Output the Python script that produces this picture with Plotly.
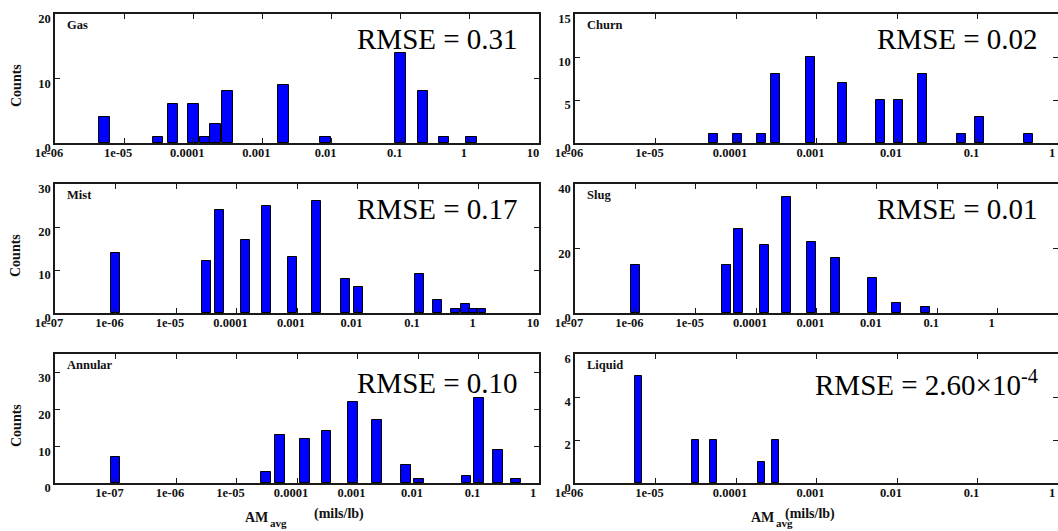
import numpy as np
import plotly.graph_objects as go

# ---- histogram data: bin centre of AM_avg (mils/lb) and counts per regime ----
gas_am = [5.2e-6, 3.1e-5, 5.1e-5, 1.0e-4, 1.5e-4, 2.1e-4, 3.1e-4, 2.0e-3, 8.2e-3, 0.10, 0.21, 0.42, 1.05]
gas_counts = [4, 1, 6, 6, 1, 3, 8, 9, 1, 14, 8, 1, 1]

churn_am = [5.2e-5, 1.03e-4, 2.1e-4, 3.1e-4, 8.4e-4, 2.1e-3, 6.2e-3, 1.04e-2, 2.1e-2, 6.3e-2, 0.106, 0.43]
churn_counts = [1, 1, 1, 8, 10, 7, 5, 5, 8, 1, 3, 1]

mist_am = [1.0e-6, 3.2e-5, 5.2e-5, 1.4e-4, 3.1e-4, 8.3e-4, 2.1e-3, 6.3e-3, 1.05e-2, 0.104, 0.21, 0.42, 0.60, 0.82, 1.1]
mist_counts = [14, 12, 24, 17, 25, 13, 26, 8, 6, 9, 3, 1, 2, 1, 1]

slug_am = [1.0e-6, 3.2e-5, 5.2e-5, 1.4e-4, 3.2e-4, 8.4e-4, 2.1e-3, 8.5e-3, 2.1e-2, 6.3e-2]
slug_counts = [15, 15, 26, 21, 36, 22, 17, 11, 3, 2]

annular_am = [1.0e-7, 3.1e-5, 5.2e-5, 1.35e-4, 3.1e-4, 8.4e-4, 2.1e-3, 6.3e-3, 1.04e-2, 6.3e-2, 0.102, 0.21, 0.42]
annular_counts = [7, 3, 13, 12, 14, 22, 17, 5, 1, 2, 23, 9, 1]

liquid_am = [6.1e-6, 3.1e-5, 5.2e-5, 2.1e-4, 3.1e-4]
liquid_counts = [5, 2, 2, 1, 2]

regimes = ["Gas", "Churn", "Mist", "Slug", "Annular", "Liquid"]
rmse_labels = ["RMSE = 0.31", "RMSE = 0.02", "RMSE = 0.17", "RMSE = 0.01",
               "RMSE = 0.10", "RMSE = 2.60×10<sup>-4</sup>"]
decade_labels = {-8: " ", -7: "1e-07", -6: "1e-06", -5: "1e-05", -4: "0.0001",
                 -3: "0.001", -2: "0.01", -1: "0.1", 0: "1", 1: "10"}

W, H = 1058, 531
SERIF = "Liberation Serif, Times New Roman, Times, serif"


def px(x):
    return x / W


def py(y):
    return 1 - y / H


# panel geometry (pixels): column x-extent, row y-extent
cols = [(55, 539), (575, 1058)]
rows = [(14, 143), (184, 313), (354, 483)]

panels = [
    dict(am=gas_am, n=gas_counts, xr=(-6, 1), yr=(0, 20), yt=[0, 10, 20], bw=0.152),
    dict(am=churn_am, n=churn_counts, xr=(-6, 0), yr=(0, 15), yt=[0, 5, 10, 15], bw=0.112),
    dict(am=mist_am, n=mist_counts, xr=(-7, 1), yr=(0, 30), yt=[0, 10, 20, 30], bw=0.149),
    dict(am=slug_am, n=slug_counts, xr=(-7, 1), yr=(0, 40), yt=[0, 20, 40], bw=0.149),
    dict(am=annular_am, n=annular_counts, xr=(-8, 0), yr=(0, 35), yt=[0, 10, 20, 30], bw=0.157),
    dict(am=liquid_am, n=liquid_counts, xr=(-6, 0), yr=(0, 6), yt=[0, 2, 4, 6], bw=0.087),
]

fig = go.Figure()
annotations = []
axis_line = "#1a1a1a"
tick_font = dict(family=SERIF, size=12.5, color="#111", weight="bold")

for i, p in enumerate(panels):
    r, c = divmod(i, 2)
    k = "" if i == 0 else str(i + 1)
    x0, x1 = cols[c]
    y0, y1 = rows[r]
    fig.add_trace(go.Bar(
        x=np.log10(p["am"]), y=p["n"], width=p["bw"],
        marker=dict(color="#0000ff", line=dict(color="#000", width=1)),
        xaxis="x" + k, yaxis="y" + k, showlegend=False,
    ))
    decs = list(range(p["xr"][0], p["xr"][1] + 1))
    fig.layout["xaxis" + k] = dict(
        domain=[px(x0), px(x1)], anchor="y" + k, range=list(p["xr"]),
        tickvals=decs, ticktext=[decade_labels[d] for d in decs],
        ticks="inside", ticklen=5, tickcolor=axis_line, tickwidth=1,
        showline=True, linecolor=axis_line, linewidth=1.5, mirror="ticks",
        showgrid=False, zeroline=False, tickfont=tick_font, automargin=False,
        ticklabelshift=-6, ticklabelstandoff=-3,
    )
    fig.layout["yaxis" + k] = dict(
        domain=[py(y1), py(y0)], anchor="x" + k, range=list(p["yr"]),
        tickvals=p["yt"], ticks="inside", ticklen=5, tickcolor=axis_line, tickwidth=1,
        showline=True, linecolor=axis_line, linewidth=1.5, mirror="ticks",
        showgrid=False, zeroline=False, tickfont=tick_font, ticklabelshift=5,
        automargin=False,
    )
    # regime name
    annotations.append(dict(
        x=px(x0 + 10), y=py(y0 + 11), xref="paper", yref="paper",
        text="<b>%s</b>" % regimes[i], showarrow=False,
        xanchor="left", yanchor="middle",
        font=dict(family=SERIF, size=12.5, color="#111"),
    ))
    # fit error
    annotations.append(dict(
        x=px(x1 - 19 if c == 0 else x1 - 18), y=py(y0 + (25 if r < 2 else 29)),
        xref="paper", yref="paper", text=rmse_labels[i], showarrow=False,
        xanchor="right", yanchor="middle",
        font=dict(family=SERIF, size=29, color="#000"),
    ))

# y titles
for yc in (86, 256, 426):
    annotations.append(dict(
        x=px(16), y=py(yc), xref="paper", yref="paper", text="<b>Counts</b>",
        showarrow=False, textangle=-90, xanchor="center", yanchor="middle",
        font=dict(family=SERIF, size=14, color="#111"),
    ))

# x titles (AM with subscript avg, then unit)
for am_x, avg_x, unit_x in ((243, 268, 312), (776, 795, 837)):
    annotations.append(dict(x=px(am_x), y=py(517), xref="paper", yref="paper",
                            text="<b>AM</b>", showarrow=False, yanchor="middle",
                            font=dict(family=SERIF, size=14, color="#111")))
    annotations.append(dict(x=px(avg_x), y=py(531), xref="paper", yref="paper",
                            text="<b>avg</b>", showarrow=False, yanchor="bottom",
                            font=dict(family=SERIF, size=11, color="#111")))
    annotations.append(dict(x=px(unit_x), y=py(514), xref="paper", yref="paper",
                            text="<b>(mils/lb)</b>", showarrow=False, yanchor="middle",
                            font=dict(family=SERIF, size=14, color="#111")))

fig.update_layout(
    width=W, height=H, margin=dict(l=0, r=0, t=0, b=0),
    paper_bgcolor="white", plot_bgcolor="white",
    barmode="overlay", bargap=0, annotations=annotations,
    font=dict(family=SERIF),
)

fig.write_html("out.html")
